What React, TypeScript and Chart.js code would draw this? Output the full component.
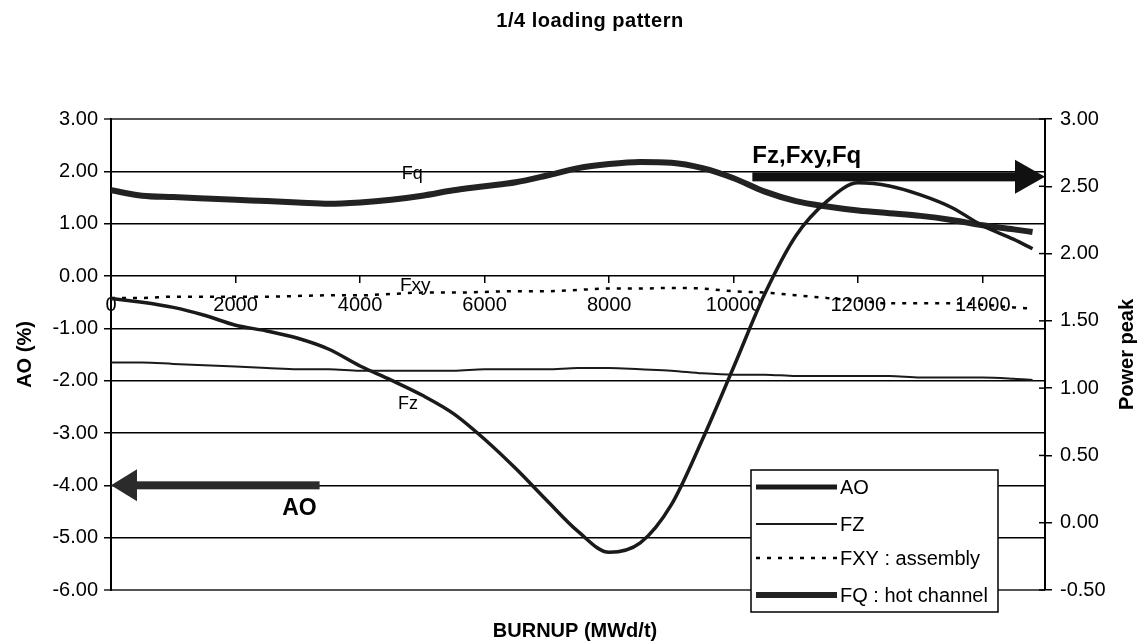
import React, { useEffect, useRef } from 'react';
import { Chart, registerables } from 'chart.js';

Chart.register(...registerables);

const FONT = '"Liberation Sans", Arial, Helvetica, sans-serif';

// ---- data ----
const burnup = [0, 500, 1000, 1500, 2000, 2500, 3000, 3500, 4000, 4500, 5000, 5500, 6000, 6500, 7000, 7500, 8000, 8500, 9000, 9500, 10000, 10500, 11000, 11500, 12000, 12500, 13000, 13500, 14000, 14500, 14800];

const aoValues = [-0.43, -0.5, -0.6, -0.75, -0.94, -1.05, -1.19, -1.4, -1.72, -1.99, -2.28, -2.63, -3.12, -3.68, -4.29, -4.88, -5.28, -5.1, -4.37, -3.12, -1.74, -0.34, 0.77, 1.43, 1.78, 1.72, 1.55, 1.31, 0.96, 0.7, 0.52];

const fzValues = [1.19, 1.19, 1.18, 1.17, 1.16, 1.15, 1.14, 1.14, 1.13, 1.13, 1.13, 1.13, 1.14, 1.14, 1.14, 1.15, 1.15, 1.14, 1.13, 1.11, 1.1, 1.1, 1.09, 1.09, 1.09, 1.09, 1.08, 1.08, 1.08, 1.07, 1.06];

const fxyValues = [1.67, 1.67, 1.68, 1.68, 1.68, 1.68, 1.685, 1.69, 1.69, 1.7, 1.71, 1.71, 1.715, 1.72, 1.72, 1.73, 1.74, 1.74, 1.745, 1.74, 1.72, 1.71, 1.69, 1.67, 1.65, 1.63, 1.63, 1.63, 1.62, 1.6, 1.59];

const fqValues = [2.47, 2.43, 2.42, 2.41, 2.4, 2.39, 2.38, 2.37, 2.38, 2.4, 2.43, 2.47, 2.5, 2.53, 2.58, 2.635, 2.665, 2.68, 2.675, 2.635, 2.56, 2.46, 2.39, 2.35, 2.32, 2.3, 2.28, 2.25, 2.21, 2.18, 2.16];

const xTickValues = [0, 2000, 4000, 6000, 8000, 10000, 12000, 14000];

const seriesLabels = ['AO', 'FZ', 'FXY : assembly', 'FQ : hot channel'];

const chartTitle = '1/4 loading pattern';
const xTitle = 'BURNUP (MWd/t)';
const leftTitle = 'AO (%)';
const rightTitle = 'Power peak';

// in-plot annotations (data coordinates)
const curveNotes = [
  { text: 'Fq', x: 4670, y: 1.95, axis: 'y', font: `18px ${FONT}` },
  { text: 'Fxy', x: 4640, y: -0.19, axis: 'y', font: `19px ${FONT}` },
  { text: 'Fz', x: 4610, y: -2.45, axis: 'y', font: `18px ${FONT}` },
  { text: 'AO', x: 2750, y: -4.45, axis: 'y', font: `bold 23px ${FONT}` },
  { text: 'Fz,Fxy,Fq', x: 10300, y: 2.29, axis: 'y', font: `bold 24px ${FONT}` },
];

const pts = (ys: number[]) => burnup.map((x, i) => ({ x, y: ys[i] }));

function drawArrow(ctx: CanvasRenderingContext2D, tail: number, tip: number, yy: number, shaft: number, headLen: number, headHalf: number, color: string) {
  const dir = tip > tail ? 1 : -1;
  const base = tip - dir * headLen;
  ctx.save();
  ctx.fillStyle = color;
  ctx.fillRect(Math.min(tail, base), yy - shaft / 2, Math.abs(base - tail), shaft);
  ctx.beginPath();
  ctx.moveTo(tip, yy);
  ctx.lineTo(base, yy - headHalf);
  ctx.lineTo(base, yy + headHalf);
  ctx.closePath();
  ctx.fill();
  ctx.restore();
}

const overlayPlugin = {
  id: 'overlay',
  beforeDraw(chart: any) {
    const { ctx, width, height } = chart;
    ctx.save();
    ctx.fillStyle = '#fff';
    ctx.fillRect(0, 0, width, height);
    ctx.restore();
  },
  afterDraw(chart: any) {
    const { ctx, chartArea: ca, scales } = chart;
    const xs = scales.x, ys = scales.y, y1 = scales.y1;
    ctx.save();

    // inward half of the right-axis tick marks
    ctx.strokeStyle = '#000';
    ctx.lineWidth = 1.5;
    y1.ticks.forEach((t: any) => {
      const py = y1.getPixelForValue(t.value);
      ctx.beginPath();
      ctx.moveTo(ca.right - 6, py);
      ctx.lineTo(ca.right, py);
      ctx.stroke();
    });

    // titles
    ctx.fillStyle = '#000';
    ctx.textAlign = 'center';
    ctx.textBaseline = 'middle';
    ctx.font = `bold 20px ${FONT}`;
    (ctx as any).letterSpacing = '0.5px';
    ctx.fillText(chartTitle, 590, 21);
    (ctx as any).letterSpacing = '0px';
    ctx.fillText(xTitle, 575, 631);

    const midY = (ca.top + ca.bottom) / 2;
    ctx.save();
    ctx.translate(25, midY);
    ctx.rotate(-Math.PI / 2);
    ctx.fillText(leftTitle, 0, 0);
    ctx.restore();
    ctx.save();
    ctx.translate(1127, midY);
    ctx.rotate(-Math.PI / 2);
    ctx.fillText(rightTitle, 0, 0);
    ctx.restore();

    // arrows
    drawArrow(ctx, xs.getPixelForValue(3350), xs.getPixelForValue(0), ys.getPixelForValue(-4), 8, 26, 16, '#2b2b2b');
    drawArrow(ctx, xs.getPixelForValue(10300), ca.right, y1.getPixelForValue(2.57), 9, 30, 17, '#111');

    // curve labels
    ctx.textAlign = 'left';
    ctx.textBaseline = 'middle';
    curveNotes.forEach((n) => {
      ctx.font = n.font;
      ctx.fillText(n.text, xs.getPixelForValue(n.x), scales[n.axis].getPixelForValue(n.y));
    });

    // legend box
    const bx = 751, by = 470, bw = 247, bh = 142;
    ctx.fillStyle = '#fff';
    ctx.fillRect(bx, by, bw, bh);
    ctx.strokeStyle = '#000';
    ctx.lineWidth = 1.5;
    ctx.strokeRect(bx, by, bw, bh);
    const rows = [487, 524, 558, 595];
    chart.data.datasets.forEach((ds: any, i: number) => {
      const ry = rows[i];
      ctx.save();
      ctx.strokeStyle = ds.borderColor;
      ctx.lineWidth = ds.legendWidth || ds.borderWidth;
      ctx.setLineDash(ds.borderDash || []);
      ctx.beginPath();
      ctx.moveTo(756, ry);
      ctx.lineTo(837, ry);
      ctx.stroke();
      ctx.restore();
      ctx.fillStyle = '#000';
      ctx.font = `20px ${FONT}`;
      ctx.fillText(ds.label, 840, ry + 1);
    });

    ctx.restore();
  },
};

export default function App() {
  const ref = useRef<HTMLCanvasElement>(null);

  useEffect(() => {
    if (!ref.current) return;
    const tickFont = { family: FONT, size: 20 };
    const chart = new Chart(ref.current, {
      type: 'line',
      data: {
        datasets: [
          {
            label: seriesLabels[0],
            data: pts(aoValues),
            yAxisID: 'y',
            borderColor: '#1a1a1a',
            borderWidth: 3.5,
            legendWidth: 5,
            pointRadius: 0,
            cubicInterpolationMode: 'monotone',
          } as any,
          {
            label: seriesLabels[1],
            data: pts(fzValues),
            yAxisID: 'y1',
            borderColor: '#1a1a1a',
            borderWidth: 2,
            pointRadius: 0,
            cubicInterpolationMode: 'monotone',
          },
          {
            label: seriesLabels[2],
            data: pts(fxyValues),
            yAxisID: 'y1',
            borderColor: '#000',
            borderWidth: 2.5,
            borderDash: [4, 7],
            pointRadius: 0,
            cubicInterpolationMode: 'monotone',
          },
          {
            label: seriesLabels[3],
            data: pts(fqValues),
            yAxisID: 'y1',
            borderColor: '#222',
            borderWidth: 6,
            pointRadius: 0,
            cubicInterpolationMode: 'monotone',
          },
        ],
      },
      options: {
        responsive: false,
        animation: false,
        events: [],
        layout: { padding: { top: 119, bottom: 53, left: 0, right: 0 } },
        plugins: {
          legend: { display: false },
          title: { display: false },
          tooltip: { enabled: false },
        },
        scales: {
          x: {
            type: 'linear',
            position: { y: 0 } as any,
            min: 0,
            max: 15000,
            afterBuildTicks: (s: any) => {
              s.ticks = xTickValues.map((v) => ({ value: v }));
            },
            grid: { drawOnChartArea: false, drawTicks: true, tickLength: 7, color: '#000', lineWidth: 1.5 },
            border: { display: false },
            ticks: {
              maxRotation: 0,
              autoSkip: false,
              padding: 10,
              color: '#000',
              font: tickFont,
              callback: (v: any) => String(v),
            },
          },
          y: {
            type: 'linear',
            position: 'left',
            min: -6,
            max: 3,
            afterFit: (s: any) => { s.width = 111; },
            grid: {
              color: (c: any) => (c.tick && (c.tick.value === 3 || c.tick.value === -6) ? '#555' : '#000'),
              lineWidth: (c: any) => (c.tick && (c.tick.value === 3 || c.tick.value === -6) ? 2 : 1.5),
              tickLength: 7,
            },
            border: { display: true, color: '#000', width: 2 },
            ticks: {
              stepSize: 1,
              padding: 6,
              color: '#000',
              font: tickFont,
              callback: (v: any) => Number(v).toFixed(2),
            },
          },
          y1: {
            type: 'linear',
            position: 'right',
            min: -0.5,
            max: 3,
            afterFit: (s: any) => { s.width = 99; },
            grid: { drawOnChartArea: false, tickLength: 7, color: '#000', lineWidth: 1.5 },
            border: { display: true, color: '#000', width: 2 },
            ticks: {
              stepSize: 0.5,
              padding: 8,
              color: '#000',
              font: tickFont,
              callback: (v: any) => Number(v).toFixed(2),
            },
          },
        },
      } as any,
      plugins: [overlayPlugin],
    });
    return () => chart.destroy();
  }, []);

  return (
    <div style={{ position: 'absolute', left: 0, top: 0, width: 1144, height: 643, background: '#fff' }}>
      <canvas ref={ref} width={1144} height={643} style={{ display: 'block', width: 1144, height: 643 }} />
    </div>
  );
}
